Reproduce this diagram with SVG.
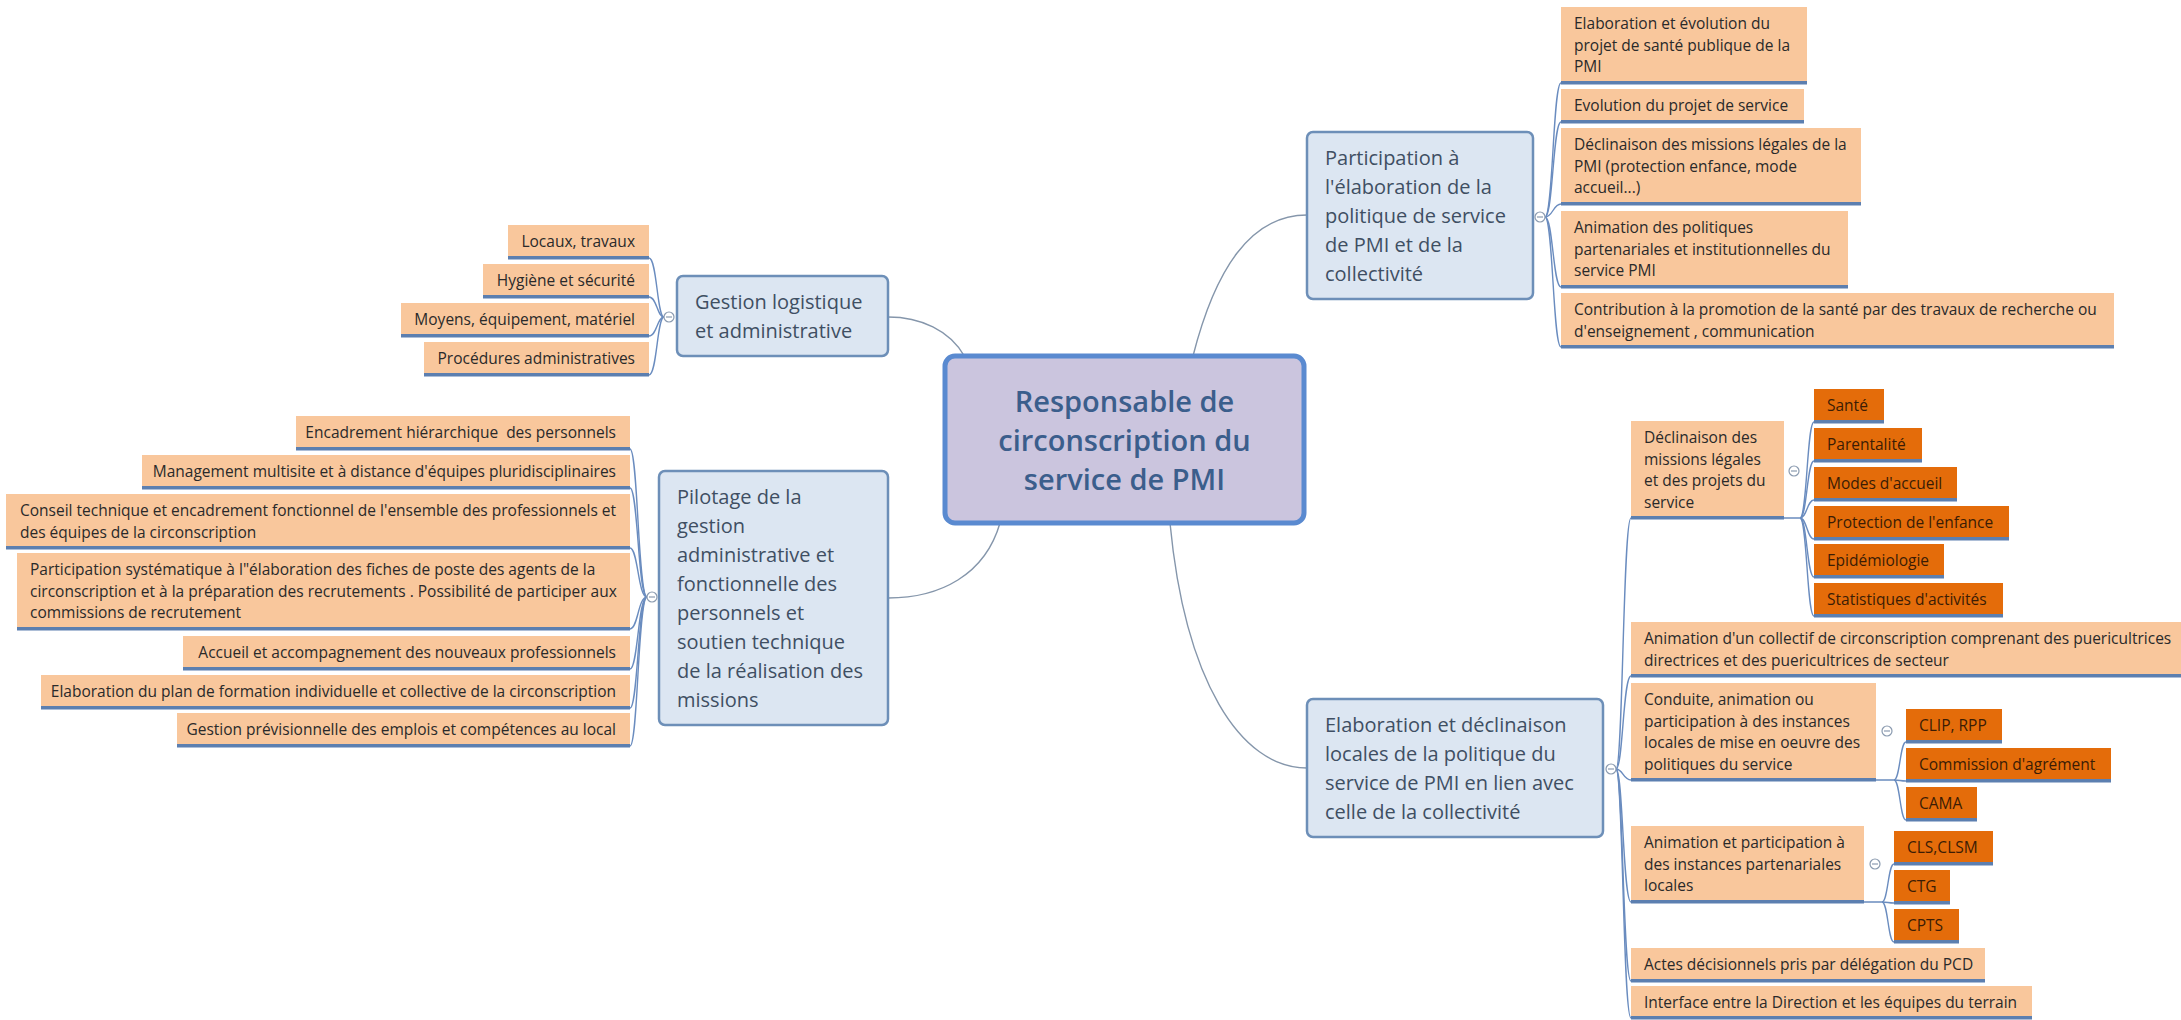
<svg xmlns="http://www.w3.org/2000/svg" width="2181" height="1020" viewBox="0 0 2181 1020">
<style>
text{font-family:"Open Sans","Noto Sans","Liberation Sans",sans-serif;}
.lo{fill:#f9c79c;}
.dk{fill:#e46c0a;}
.ul{fill:#5c7fb0;}
.t{font-size:15.5px;fill:#2a2a2a;}
.td{font-size:15.5px;fill:#3b1c05;}
.e{text-anchor:end;}
.par{fill:#dce6f2;stroke:#6d8fb8;stroke-width:2.5;}
.pt{font-size:20px;fill:#3f4f63;}
.ctr{fill:#cbc5de;stroke:#5a8ad0;stroke-width:5;}
.ct{font-size:29px;font-weight:600;fill:#3b5e8c;text-anchor:middle;}
.main{fill:none;stroke:#8596ab;stroke-width:1.4;}
.br{fill:none;stroke:#6a8cbf;stroke-width:1.4;}
.col{fill:#fff;stroke:#8b9bb0;stroke-width:1.2;}
.cm{stroke:#8b9bb0;stroke-width:1.2;}
</style>

<g id="connectors">
  <path class="main" d="M965 357 C950 330 920 317 888 317"/>
  <path class="main" d="M1000 523 C985 575 940 598 888 598"/>
  <path class="main" d="M1193 356 C1215 270 1250 215 1307 215"/>
  <path class="main" d="M1170 523 C1185 680 1240 768 1307 768"/>
  <!-- G children -->
  <path class="br" d="M664 317 C657 317 657 258 649 258"/>
  <path class="br" d="M664 317 C657 317 657 297 649 297"/>
  <path class="br" d="M664 317 C657 317 657 336 649 336"/>
  <path class="br" d="M664 317 C657 317 657 375 649 375"/>
  <!-- P2 children -->
  <path class="br" d="M647 597 C638 597 638 449 630 449"/>
  <path class="br" d="M647 597 C638 597 638 488 630 488"/>
  <path class="br" d="M647 597 C638 597 638 548 630 548"/>
  <path class="br" d="M647 597 C638 597 638 629 630 629"/>
  <path class="br" d="M647 597 C638 597 638 669 630 669"/>
  <path class="br" d="M647 597 C638 597 638 708 630 708"/>
  <path class="br" d="M647 597 C638 597 638 746 630 746"/>
  <!-- P1 children -->
  <path class="br" d="M1545 217 C1553 217 1553 83 1561 83"/>
  <path class="br" d="M1545 217 C1553 217 1553 122 1561 122"/>
  <path class="br" d="M1545 217 C1553 217 1553 204 1561 204"/>
  <path class="br" d="M1545 217 C1553 217 1553 287 1561 287"/>
  <path class="br" d="M1545 217 C1553 217 1553 347 1561 347"/>
  <!-- P3 children -->
  <path class="br" d="M1616 769 C1623 769 1623 518 1631 518"/>
  <path class="br" d="M1616 769 C1623 769 1623 676 1631 676"/>
  <path class="br" d="M1616 769 C1623 769 1623 780 1631 780"/>
  <path class="br" d="M1616 769 C1623 769 1623 902 1631 902"/>
  <path class="br" d="M1616 769 C1623 769 1623 981 1631 981"/>
  <path class="br" d="M1616 769 C1623 769 1623 1018 1631 1018"/>
  <!-- B1 children -->
  <path class="br" d="M1784 518 L1800 518 C1807 518 1807 422 1814 422"/>
  <path class="br" d="M1800 518 C1807 518 1807 461 1814 461"/>
  <path class="br" d="M1800 518 C1807 518 1807 500 1814 500"/>
  <path class="br" d="M1800 518 C1807 518 1807 539 1814 539"/>
  <path class="br" d="M1800 518 C1807 518 1807 577 1814 577"/>
  <path class="br" d="M1800 518 C1807 518 1807 616 1814 616"/>
  <!-- B3 children -->
  <path class="br" d="M1876 780 L1894 780 C1900 780 1900 742 1906 742"/>
  <path class="br" d="M1894 780 C1900 780 1900 781 1906 781"/>
  <path class="br" d="M1894 780 C1900 780 1900 820 1906 820"/>
  <!-- B4 children -->
  <path class="br" d="M1864 902 L1882 902 C1888 902 1888 864 1894 864"/>
  <path class="br" d="M1882 902 C1888 902 1888 903 1894 903"/>
  <path class="br" d="M1882 902 C1888 902 1888 942 1894 942"/>
</g>

<g id="center">
  <rect class="ctr" x="945" y="356" width="359" height="167" rx="10"/>
  <text class="ct" x="1124.5" y="412">Responsable de</text>
  <text class="ct" x="1124.5" y="451">circonscription du</text>
  <text class="ct" x="1124.5" y="490">service de PMI</text>
</g>

<!-- Left: Gestion logistique -->
<g id="gestion">
  <rect class="par" x="677" y="276" width="211" height="80" rx="6"/>
  <text class="pt" x="695" y="309">Gestion logistique</text>
  <text class="pt" x="695" y="338">et administrative</text>
  <circle class="col" cx="669" cy="317" r="5"/><line class="cm" x1="666" y1="317" x2="672" y2="317"/>
</g>
<g id="g1"><rect class="lo" x="508" y="225" width="141" height="34"/><rect class="ul" x="508" y="256" width="141" height="3.5"/><text class="t e" x="635" y="247">Locaux, travaux</text></g>
<g id="g2"><rect class="lo" x="483" y="264" width="166" height="34"/><rect class="ul" x="483" y="295" width="166" height="3.5"/><text class="t e" x="635" y="286">Hygiène et sécurité</text></g>
<g id="g3"><rect class="lo" x="401" y="303" width="248" height="34"/><rect class="ul" x="401" y="334" width="248" height="3.5"/><text class="t e" x="635" y="325">Moyens, équipement, matériel</text></g>
<g id="g4"><rect class="lo" x="424" y="342" width="225" height="34"/><rect class="ul" x="424" y="373" width="225" height="3.5"/><text class="t e" x="635" y="364">Procédures administratives</text></g>

<!-- Left: Pilotage -->
<g id="pilotage">
  <rect class="par" x="659" y="471" width="229" height="254" rx="6"/>
  <text class="pt" x="677" y="504">Pilotage de la</text>
  <text class="pt" x="677" y="533">gestion</text>
  <text class="pt" x="677" y="562">administrative et</text>
  <text class="pt" x="677" y="591">fonctionnelle des</text>
  <text class="pt" x="677" y="620">personnels et</text>
  <text class="pt" x="677" y="649">soutien technique</text>
  <text class="pt" x="677" y="678">de la réalisation des</text>
  <text class="pt" x="677" y="707">missions</text>
  <circle class="col" cx="652" cy="597" r="5"/><line class="cm" x1="649" y1="597" x2="655" y2="597"/>
</g>
<g id="e1"><rect class="lo" x="296" y="416" width="334" height="34"/><rect class="ul" x="296" y="447" width="334" height="3.5"/><text class="t e" x="616" y="438" style="white-space:pre">Encadrement hiérarchique  des personnels</text></g>
<g id="e2"><rect class="lo" x="142" y="455" width="488" height="34"/><rect class="ul" x="142" y="486" width="488" height="3.5"/><text class="t e" x="616" y="477">Management multisite et à distance d'équipes pluridisciplinaires</text></g>
<g id="e3"><rect class="lo" x="6" y="494" width="624" height="55"/><rect class="ul" x="6" y="546" width="624" height="3.5"/><text class="t" x="20" y="516">Conseil technique et encadrement fonctionnel de l'ensemble des professionnels et</text><text class="t" x="20" y="537.5">des équipes de la circonscription</text></g>
<g id="e4"><rect class="lo" x="17" y="553" width="613" height="77"/><rect class="ul" x="17" y="627" width="613" height="3.5"/><text class="t" x="30" y="575">Participation systématique à l"élaboration des fiches de poste des agents de la</text><text class="t" x="30" y="596.5">circonscription et à la préparation des recrutements . Possibilité de participer aux</text><text class="t" x="30" y="618">commissions de recrutement</text></g>
<g id="e5"><rect class="lo" x="183" y="636" width="447" height="34"/><rect class="ul" x="183" y="667" width="447" height="3.5"/><text class="t e" x="616" y="658">Accueil et accompagnement des nouveaux professionnels</text></g>
<g id="e6"><rect class="lo" x="41" y="675" width="589" height="34"/><rect class="ul" x="41" y="706" width="589" height="3.5"/><text class="t e" x="616" y="697">Elaboration du plan de formation individuelle et collective de la circonscription</text></g>
<g id="e7"><rect class="lo" x="177" y="713" width="453" height="34"/><rect class="ul" x="177" y="744" width="453" height="3.5"/><text class="t e" x="616" y="735">Gestion prévisionnelle des emplois et compétences au local</text></g>

<!-- Right: Participation -->
<g id="participation">
  <rect class="par" x="1307" y="132" width="226" height="167" rx="6"/>
  <text class="pt" x="1325" y="165">Participation à</text>
  <text class="pt" x="1325" y="194">l'élaboration de la</text>
  <text class="pt" x="1325" y="223">politique de service</text>
  <text class="pt" x="1325" y="252">de PMI et de la</text>
  <text class="pt" x="1325" y="281">collectivité</text>
  <circle class="col" cx="1540" cy="217" r="5"/><line class="cm" x1="1537" y1="217" x2="1543" y2="217"/>
</g>
<g id="a1"><rect class="lo" x="1561" y="7" width="246" height="77"/><rect class="ul" x="1561" y="81" width="246" height="3.5"/><text class="t" x="1574" y="29">Elaboration et évolution du</text><text class="t" x="1574" y="50.5">projet de santé publique de la</text><text class="t" x="1574" y="72">PMI</text></g>
<g id="a2"><rect class="lo" x="1561" y="89" width="243" height="34"/><rect class="ul" x="1561" y="120" width="243" height="3.5"/><text class="t" x="1574" y="111">Evolution du projet de service</text></g>
<g id="a3"><rect class="lo" x="1561" y="128" width="300" height="77"/><rect class="ul" x="1561" y="202" width="300" height="3.5"/><text class="t" x="1574" y="150">Déclinaison des missions légales de la</text><text class="t" x="1574" y="171.5">PMI (protection enfance, mode</text><text class="t" x="1574" y="193">accueil...)</text></g>
<g id="a4"><rect class="lo" x="1561" y="211" width="287" height="77"/><rect class="ul" x="1561" y="285" width="287" height="3.5"/><text class="t" x="1574" y="233">Animation des politiques</text><text class="t" x="1574" y="254.5">partenariales et institutionnelles du</text><text class="t" x="1574" y="276">service PMI</text></g>
<g id="a5"><rect class="lo" x="1561" y="293" width="553" height="55"/><rect class="ul" x="1561" y="345" width="553" height="3.5"/><text class="t" x="1574" y="315">Contribution à la promotion de la santé par des travaux de recherche ou</text><text class="t" x="1574" y="336.5">d'enseignement , communication</text></g>

<!-- Right: Elaboration et déclinaison -->
<g id="elaboration">
  <rect class="par" x="1307" y="699" width="296" height="138" rx="6"/>
  <text class="pt" x="1325" y="732">Elaboration et déclinaison</text>
  <text class="pt" x="1325" y="761">locales de la politique du</text>
  <text class="pt" x="1325" y="790">service de PMI en lien avec</text>
  <text class="pt" x="1325" y="819">celle de la collectivité</text>
  <circle class="col" cx="1611" cy="769" r="5"/><line class="cm" x1="1608" y1="769" x2="1614" y2="769"/>
</g>
<g id="b1"><rect class="lo" x="1631" y="421" width="153" height="98"/><rect class="ul" x="1631" y="516" width="153" height="3.5"/><text class="t" x="1644" y="443">Déclinaison des</text><text class="t" x="1644" y="464.5">missions légales</text><text class="t" x="1644" y="486">et des projets du</text><text class="t" x="1644" y="507.5">service</text>
  <circle class="col" cx="1794" cy="471" r="5"/><line class="cm" x1="1791" y1="471" x2="1797" y2="471"/></g>
<g id="d1"><rect class="dk" x="1814" y="389" width="70" height="34"/><rect class="ul" x="1814" y="420" width="70" height="3.5"/><text class="td" x="1827" y="411">Santé</text></g>
<g id="d2"><rect class="dk" x="1814" y="428" width="108" height="34"/><rect class="ul" x="1814" y="459" width="108" height="3.5"/><text class="td" x="1827" y="450">Parentalité</text></g>
<g id="d3"><rect class="dk" x="1814" y="467" width="143" height="34"/><rect class="ul" x="1814" y="498" width="143" height="3.5"/><text class="td" x="1827" y="489">Modes d'accueil</text></g>
<g id="d4"><rect class="dk" x="1814" y="506" width="195" height="34"/><rect class="ul" x="1814" y="537" width="195" height="3.5"/><text class="td" x="1827" y="528">Protection de l'enfance</text></g>
<g id="d5"><rect class="dk" x="1814" y="544" width="130" height="34"/><rect class="ul" x="1814" y="575" width="130" height="3.5"/><text class="td" x="1827" y="566">Epidémiologie</text></g>
<g id="d6"><rect class="dk" x="1814" y="583" width="189" height="34"/><rect class="ul" x="1814" y="614" width="189" height="3.5"/><text class="td" x="1827" y="605">Statistiques d'activités</text></g>
<g id="b2"><rect class="lo" x="1631" y="622" width="550" height="55"/><rect class="ul" x="1631" y="674" width="550" height="3.5"/><text class="t" x="1644" y="644">Animation d'un collectif de circonscription comprenant des puericultrices</text><text class="t" x="1644" y="665.5">directrices et des puericultrices de secteur</text></g>
<g id="b3"><rect class="lo" x="1631" y="683" width="245" height="98"/><rect class="ul" x="1631" y="778" width="245" height="3.5"/><text class="t" x="1644" y="705">Conduite, animation ou</text><text class="t" x="1644" y="726.5">participation à des instances</text><text class="t" x="1644" y="748">locales de mise en oeuvre des</text><text class="t" x="1644" y="769.5">politiques du service</text>
  <circle class="col" cx="1887" cy="731" r="5"/><line class="cm" x1="1884" y1="731" x2="1890" y2="731"/></g>
<g id="c1"><rect class="dk" x="1906" y="709" width="96" height="34"/><rect class="ul" x="1906" y="740" width="96" height="3.5"/><text class="td" x="1919" y="731">CLIP, RPP</text></g>
<g id="c2"><rect class="dk" x="1906" y="748" width="205" height="34"/><rect class="ul" x="1906" y="779" width="205" height="3.5"/><text class="td" x="1919" y="770">Commission d'agrément</text></g>
<g id="c3"><rect class="dk" x="1906" y="787" width="71" height="34"/><rect class="ul" x="1906" y="818" width="71" height="3.5"/><text class="td" x="1919" y="809">CAMA</text></g>
<g id="b4"><rect class="lo" x="1631" y="826" width="233" height="77"/><rect class="ul" x="1631" y="900" width="233" height="3.5"/><text class="t" x="1644" y="848">Animation et participation à</text><text class="t" x="1644" y="869.5">des instances partenariales</text><text class="t" x="1644" y="891">locales</text>
  <circle class="col" cx="1875" cy="864" r="5"/><line class="cm" x1="1872" y1="864" x2="1878" y2="864"/></g>
<g id="f1"><rect class="dk" x="1894" y="831" width="99" height="34"/><rect class="ul" x="1894" y="862" width="99" height="3.5"/><text class="td" x="1907" y="853">CLS,CLSM</text></g>
<g id="f2"><rect class="dk" x="1894" y="870" width="56" height="34"/><rect class="ul" x="1894" y="901" width="56" height="3.5"/><text class="td" x="1907" y="892">CTG</text></g>
<g id="f3"><rect class="dk" x="1894" y="909" width="65" height="34"/><rect class="ul" x="1894" y="940" width="65" height="3.5"/><text class="td" x="1907" y="931">CPTS</text></g>
<g id="b5"><rect class="lo" x="1631" y="948" width="354" height="34"/><rect class="ul" x="1631" y="979" width="354" height="3.5"/><text class="t" x="1644" y="970">Actes décisionnels pris par délégation du PCD</text></g>
<g id="b6"><rect class="lo" x="1631" y="986" width="401" height="33"/><rect class="ul" x="1631" y="1016" width="401" height="3.5"/><text class="t" x="1644" y="1008">Interface entre la Direction et les équipes du terrain</text></g>
</svg>
